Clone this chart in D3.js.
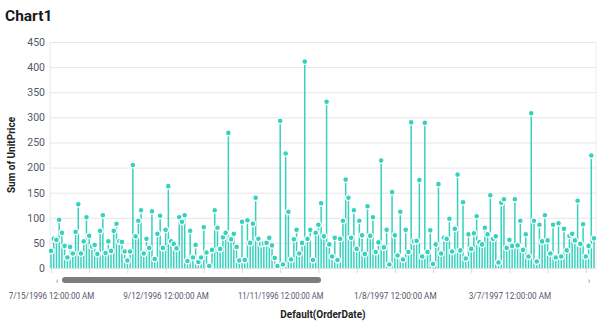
<!DOCTYPE html>
<html>
<head>
<meta charset="utf-8">
<script src="https://cdn.jsdelivr.net/npm/d3@7"></script>
<style>
  html, body { margin: 0; padding: 0; background: #fff; }
  svg { display: block; font-family: Roboto, "Noto Sans", sans-serif; }
</style>
</head>
<body>
<svg id="chart" width="600" height="322"></svg>
<script>
// Sum of UnitPrice per order date, one value per date (visible window)
const unitPriceSums = [
  34, 58, 56, 96, 70, 44, 21, 42, 29, 72, 127, 29, 53, 101, 64, 43, 46, 28, 74, 105,
  30, 53, 34, 74, 88, 53, 52, 33, 15, 33, 205, 63, 94, 115, 29, 58, 40, 113, 18, 68,
  104, 40, 76, 163, 53, 48, 39, 101, 92, 105, 14, 74, 21, 46, 12, 21, 81, 31, 4, 36,
  115, 80, 38, 61, 70, 269, 57, 68, 42, 15, 92, 16, 95, 50, 88, 140, 58, 48, 49, 50,
  60, 45, 20, 4, 293, 7, 228, 112, 17, 57, 76, 29, 50, 411, 58, 76, 16, 70, 86, 129,
  63, 331, 47, 23, 60, 16, 58, 94, 176, 140, 60, 115, 38, 94, 65, 28, 123, 64, 101, 32,
  51, 214, 41, 76, 7, 151, 65, 25, 112, 17, 76, 32, 290, 53, 54, 175, 23, 289, 32, 75,
  8, 47, 167, 29, 60, 58, 98, 33, 78, 186, 35, 131, 19, 67, 38, 69, 103, 51, 47, 80,
  67, 145, 58, 63, 11, 130, 137, 40, 56, 44, 137, 45, 94, 36, 67, 23, 308, 94, 13, 86,
  53, 105, 55, 29, 86, 21, 89, 23, 78, 35, 64, 68, 55, 134, 48, 87, 23, 44, 224, 59
];

// Category labels shown on the date axis (every third tick carries one)
const xTickLabels = [
  "7/15/1996 12:00:00 AM",
  "9/12/1996 12:00:00 AM",
  "11/11/1996 12:00:00 AM",
  "1/8/1997 12:00:00 AM",
  "3/7/1997 12:00:00 AM"
];

const yTicks = [0, 50, 100, 150, 200, 250, 300, 350, 400, 450];

const tickEvery = 14;   // categories between axis ticks
const labelEvery = 3;   // ticks between labels

const teal = "#36d2be";
const svg = d3.select("#chart");

const plot = { left: 50, right: 596, top: 42, bottom: 268 };

const x = d3.scalePoint()
  .domain(d3.range(unitPriceSums.length))
  .range([51, 594]);

const y = d3.scaleLinear()
  .domain([0, 450])
  .range([plot.bottom, plot.top]);

// Title
svg.append("text")
  .attr("x", 5).attr("y", 21)
  .attr("font-size", 15.5).attr("font-weight", 700)
  .attr("fill", "#1a1a1a")
  .text("Chart1");

// Horizontal gridlines + y tick labels
const yAxis = svg.append("g")
  .attr("transform", `translate(${plot.left},0)`)
  .call(d3.axisLeft(y).tickValues(yTicks).tickSize(-(plot.right - plot.left)).tickPadding(5));
yAxis.select(".domain").remove();
yAxis.selectAll(".tick line").attr("stroke", "#e6e6e6");
yAxis.selectAll(".tick text")
  .attr("font-size", 10.5).attr("fill", "#55556a")
  .attr("font-family", "Roboto, 'Noto Sans', sans-serif");

// Plot area side borders
svg.append("line")
  .attr("x1", plot.left).attr("x2", plot.left)
  .attr("y1", plot.top).attr("y2", plot.bottom)
  .attr("stroke", "#e6e6e6");
svg.append("line")
  .attr("x1", plot.right).attr("x2", plot.right)
  .attr("y1", plot.top).attr("y2", plot.bottom)
  .attr("stroke", "#eeeeee");

// Date axis with ticks every `tickEvery` categories
const tickIdx = d3.range(0, unitPriceSums.length, tickEvery);
const xAxis = svg.append("g")
  .attr("transform", `translate(0,${plot.bottom})`)
  .call(d3.axisBottom(x)
    .tickValues(tickIdx)
    .tickSize(5)
    .tickPadding(19)
    .tickFormat((d, i) => (i % labelEvery === 0 ? (xTickLabels[i / labelEvery] || "") : "")));
xAxis.select(".domain")
  .attr("stroke", "#e0e0e0")
  .attr("d", `M${plot.left},0.5H${plot.right}`);
xAxis.selectAll(".tick line").attr("stroke", "#d9d9d9");
xAxis.selectAll(".tick text")
  .attr("font-size", 9.6).attr("fill", "#55556a")
  .attr("font-family", "Roboto, 'Noto Sans', sans-serif")
  .each(function (d, i) {
    const t = d3.select(this);
    if (t.text()) {
      t.attr("textLength", t.text().startsWith("1/") || t.text().startsWith("3/") ? 82.5 : 85.5)
       .attr("lengthAdjust", "spacingAndGlyphs");
    }
  });

// Lollipop stems
svg.append("g")
  .selectAll("line")
  .data(unitPriceSums)
  .join("line")
  .attr("x1", (d, i) => x(i)).attr("x2", (d, i) => x(i))
  .attr("y1", y(0)).attr("y2", d => y(d))
  .attr("stroke", teal)
  .attr("stroke-width", 1.5);

// Lollipop heads
svg.append("g")
  .selectAll("circle")
  .data(unitPriceSums)
  .join("circle")
  .attr("cx", (d, i) => x(i))
  .attr("cy", d => y(d))
  .attr("r", 2.9)
  .attr("fill", teal)
  .attr("stroke", "#ffffff")
  .attr("stroke-width", 1.2);

// Range scrollbar under the axis
const sb = svg.append("g");
sb.append("rect")
  .attr("x", 62).attr("y", 277)
  .attr("width", 259).attr("height", 6)
  .attr("rx", 3)
  .attr("fill", "#7d7d7d");
sb.append("text")
  .attr("x", 57).attr("y", 284)
  .attr("text-anchor", "middle")
  .attr("font-size", 9).attr("fill", "#888")
  .text("‹");
sb.append("text")
  .attr("x", 589).attr("y", 284)
  .attr("text-anchor", "middle")
  .attr("font-size", 9).attr("fill", "#888")
  .text("›");

// Axis titles
svg.append("text")
  .attr("x", (plot.left + plot.right) / 2).attr("y", 318)
  .attr("text-anchor", "middle")
  .attr("font-size", 10).attr("font-weight", 700)
  .attr("fill", "#222")
  .text("Default(OrderDate)");

svg.append("text")
  .attr("transform", `translate(15,${(plot.top + plot.bottom) / 2}) rotate(-90)`)
  .attr("text-anchor", "middle")
  .attr("font-size", 10).attr("font-weight", 700)
  .attr("fill", "#222")
  .text("Sum of UnitPrice");
</script>
</body>
</html>
